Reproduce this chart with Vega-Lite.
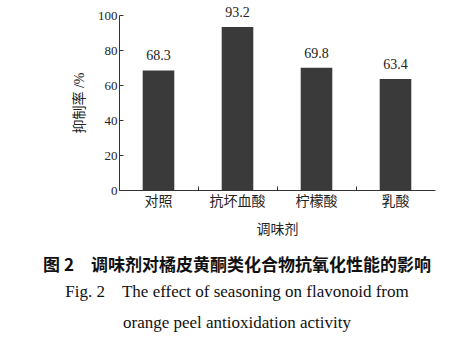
{
  "$schema": "https://vega.github.io/schema/vega-lite/v6.json",
  "width": 316,
  "height": 175,
  "autosize": "none",
  "padding": {"left": 119, "top": 15, "right": 36, "bottom": 154},
  "background": "white",
  "data": {"values": [
    {"调味剂": "对照", "抑制率": 68.3},
    {"调味剂": "抗坏血酸", "抑制率": 93.2},
    {"调味剂": "柠檬酸", "抑制率": 69.8},
    {"调味剂": "乳酸", "抑制率": 63.4}
  ]},
  "title": {
    "text": "图 2　调味剂对橘皮黄酮类化合物抗氧化性能的影响",
    "subtitle": ["Fig. 2　The effect of seasoning on flavonoid from", "orange peel antioxidation activity"],
    "orient": "bottom",
    "anchor": "middle",
    "dx": -40,
    "offset": 22,
    "font": "Noto Sans CJK SC",
    "fontSize": 17,
    "fontWeight": "bold",
    "color": "#111",
    "subtitleFont": "Liberation Serif",
    "subtitleFontSize": 17,
    "subtitleColor": "#111",
    "subtitleLineHeight": 31,
    "subtitlePadding": 9
  },
  "config": {
    "view": {"stroke": null},
    "axis": {
      "domainColor": "#333",
      "tickColor": "#333",
      "labelColor": "#222",
      "titleColor": "#222",
      "labelFont": "Liberation Serif, Noto Sans CJK SC",
      "titleFont": "Liberation Serif, Noto Sans CJK SC",
      "labelFontSize": 14,
      "titleFontSize": 14,
      "titleFontWeight": "normal",
      "grid": false
    }
  },
  "encoding": {
    "x": {
      "field": "调味剂",
      "type": "nominal",
      "sort": null,
      "scale": {"paddingInner": 0.6, "paddingOuter": 0.3},
      "axis": {"labelAngle": 0, "tickSize": -4, "bandPosition": -0.75, "labelPadding": 8, "titlePadding": 14}
    },
    "y": {
      "field": "抑制率",
      "type": "quantitative",
      "scale": {"domain": [0, 100]},
      "title": "抑制率 /%",
      "axis": {"values": [0, 20, 40, 60, 80, 100], "tickSize": -4, "labelPadding": 6, "labelFontSize": 13, "titlePadding": 11}
    }
  },
  "layer": [
    {"mark": {"type": "bar", "color": "#3a3a3a"}},
    {
      "mark": {"type": "text", "baseline": "bottom", "dy": -7, "font": "Liberation Serif", "fontSize": 14, "color": "#222"},
      "encoding": {"text": {"field": "抑制率", "type": "quantitative", "format": ".1f"}}
    }
  ]
}
